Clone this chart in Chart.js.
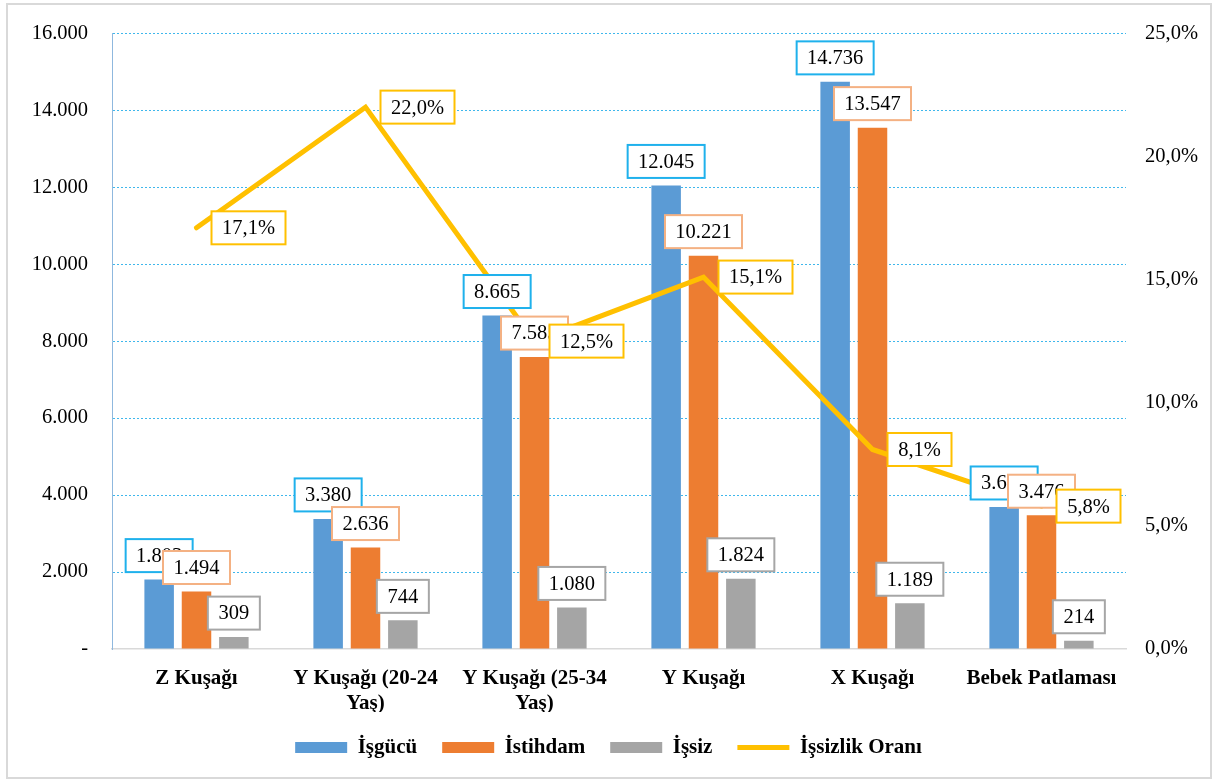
<!DOCTYPE html>
<html lang="tr">
<head>
<meta charset="utf-8">
<title>Kuşaklara göre işgücü, istihdam ve işsizlik</title>
<script src="https://cdn.jsdelivr.net/npm/chart.js@4.4.1/dist/chart.umd.min.js"></script>
<style>
  html, body { margin: 0; padding: 0; background: #ffffff; }
  canvas { display: block; }
</style>
</head>
<body>
<canvas id="chart" width="1217" height="783"></canvas>
<script>
// Generations on the category axis
const categories = [
  'Z Kuşağı',
  ['Y Kuşağı (20-24', 'Yaş)'],
  ['Y Kuşağı (25-34', 'Yaş)'],
  'Y Kuşağı',
  'X Kuşağı',
  'Bebek Patlaması'
];

// Series values (thousand persons) and unemployment rate (%)
const isgucu   = [1803, 3380, 8665, 12045, 14736, 3690];
const istihdam = [1494, 2636, 7585, 10221, 13547, 3476];
const issiz    = [309, 744, 1080, 1824, 1189, 214];
const issizlikOrani = [17.1, 22.0, 12.5, 15.1, 8.1, 5.8];

// Axis ticks
const leftTicks  = [0, 2000, 4000, 6000, 8000, 10000, 12000, 14000, 16000];
const rightTicks = [0, 5, 10, 15, 20, 25];

const SERIF = '"Liberation Serif", "Times New Roman", serif';

function fmtThousands(v) {
  if (v === 0) return '-';
  return String(Math.round(v)).replace(/\B(?=(\d{3})+(?!\d))/g, '.');
}
function fmtPercent(v) {
  return v.toFixed(1).replace('.', ',') + '%';
}

// Boxed value labels, one style per series
const labelBorders = ['#1FB1EC', '#F4B183', '#A6A6A6', '#FFC000'];
const labelFormats = [fmtThousands, fmtThousands, fmtThousands, fmtPercent];

const boxedLabels = {
  id: 'boxedLabels',
  afterDatasetsDraw(chart) {
    const ctx = chart.ctx;
    ctx.save();
    ctx.font = '20.5px ' + SERIF;
    ctx.textAlign = 'center';
    ctx.textBaseline = 'middle';
    chart.data.datasets.forEach((ds, di) => {
      const meta = chart.getDatasetMeta(di);
      if (meta.hidden) return;
      meta.data.forEach((el, i) => {
        const text = labelFormats[di](ds.data[i]);
        const w = Math.round(ctx.measureText(text).width + 21);
        const h = 33;
        let x, y;
        if (ds.type === 'line') {
          x = el.x + 15;
          y = el.y - h / 2;
        } else {
          x = el.x - w / 2;
          y = el.y - 7.5 - h;
        }
        ctx.fillStyle = '#ffffff';
        ctx.fillRect(x, y, w, h);
        ctx.strokeStyle = labelBorders[di];
        ctx.lineWidth = 2;
        ctx.strokeRect(x, y, w, h);
        ctx.fillStyle = '#000000';
        ctx.fillText(text, x + w / 2, y + h / 2 + 1);
      });
    });
    ctx.restore();
  }
};

// White background and thin outer frame
const frame = {
  id: 'frame',
  beforeDraw(chart) {
    const ctx = chart.ctx;
    ctx.save();
    ctx.fillStyle = '#ffffff';
    ctx.fillRect(0, 0, chart.width, chart.height);
    ctx.strokeStyle = '#D9D9D9';
    ctx.lineWidth = 2;
    ctx.strokeRect(7, 4, chart.width - 13, chart.height - 9);
    ctx.restore();
  }
};

new Chart(document.getElementById('chart'), {
  data: {
    labels: categories,
    datasets: [
      { type: 'bar', label: 'İşgücü', data: isgucu, backgroundColor: '#5B9BD5', borderWidth: 0,
        yAxisID: 'y', order: 1, pointStyle: 'rect' },
      { type: 'bar', label: 'İstihdam', data: istihdam, backgroundColor: '#ED7D31', borderWidth: 0,
        yAxisID: 'y', order: 1, pointStyle: 'rect' },
      { type: 'bar', label: 'İşsiz', data: issiz, backgroundColor: '#A5A5A5', borderWidth: 0,
        yAxisID: 'y', order: 1, pointStyle: 'rect' },
      { type: 'line', label: 'İşsizlik Oranı', data: issizlikOrani, borderColor: '#FFC000',
        backgroundColor: '#FFC000', borderWidth: 5, borderCapStyle: 'round', borderJoinStyle: 'miter',
        pointRadius: 0, pointHoverRadius: 0, tension: 0, yAxisID: 'y1', order: 0, pointStyle: 'line' }
    ]
  },
  options: {
    responsive: false,
    animation: false,
    devicePixelRatio: 1,
    layout: { padding: { top: 18, bottom: 15, left: 0, right: 0 } },
    datasets: { bar: { categoryPercentage: 0.663, barPercentage: 0.79 } },
    plugins: {
      tooltip: { enabled: false },
      legend: {
        position: 'bottom',
        labels: {
          usePointStyle: true,
          pointStyleWidth: 52,
          boxHeight: 11,
          padding: 25,
          color: '#000000',
          font: { family: SERIF, size: 21, weight: 'bold' },
          sort: (a, b) => a.datasetIndex - b.datasetIndex
        }
      }
    },
    scales: {
      x: {
        grid: { display: false, drawTicks: false },
        border: { display: true, color: '#D9D9D9', width: 1.5 },
        ticks: {
          color: '#000000',
          padding: 18,
          maxRotation: 0,
          autoSkip: false,
          font: { family: SERIF, size: 21, weight: 'bold', lineHeight: 1.15 }
        },
        afterFit(scale) { scale.height = 63; }
      },
      y: {
        position: 'left',
        min: 0,
        max: 16000,
        afterBuildTicks(scale) { scale.ticks = leftTicks.map(v => ({ value: v })); },
        grid: {
          drawTicks: false,
          color: ctx => (ctx.tick && ctx.tick.value === 0) ? 'rgba(0,0,0,0)' : '#3FB7EC',
          lineWidth: 1
        },
        border: { display: true, color: '#8FB8DE', dash: [2, 2], width: 1 },
        ticks: {
          color: '#000000',
          padding: 24,
          font: { family: SERIF, size: 20.5, lineHeight: 0.9 },
          callback: v => fmtThousands(v)
        },
        afterFit(scale) { scale.width = 112; }
      },
      y1: {
        position: 'right',
        min: 0,
        max: 25,
        afterBuildTicks(scale) { scale.ticks = rightTicks.map(v => ({ value: v })); },
        grid: { display: false, drawTicks: false },
        border: { display: false },
        ticks: {
          color: '#000000',
          padding: 19,
          font: { family: SERIF, size: 20.5, lineHeight: 0.9 },
          callback: v => fmtPercent(v)
        },
        afterFit(scale) { scale.width = 91; }
      }
    }
  },
  plugins: [frame, boxedLabels]
});
</script>
</body>
</html>
